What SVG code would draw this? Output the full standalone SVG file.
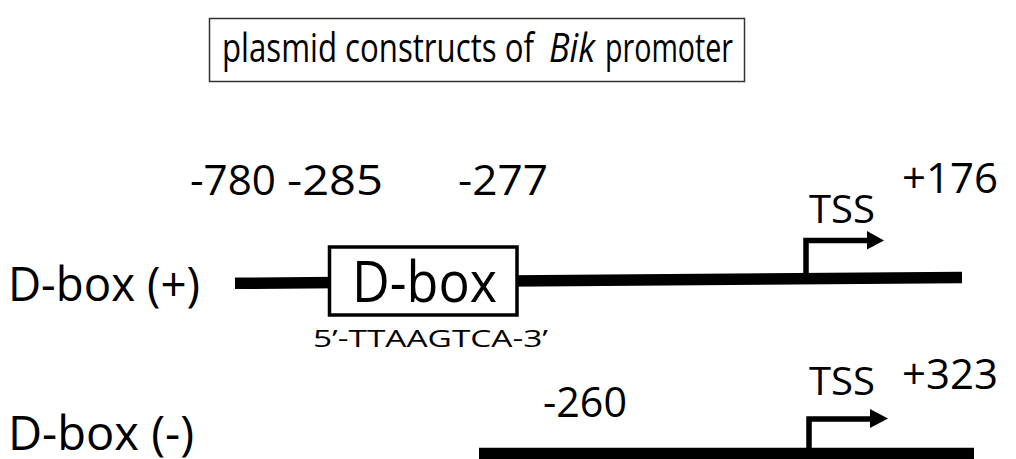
<svg xmlns="http://www.w3.org/2000/svg" width="1016" height="459" viewBox="0 0 1016 459">
<style>
text{font-family:"Open Sans","Liberation Sans",sans-serif;fill:#000}
.lbl{font-size:48px}
.num{font-size:42px}
.tss{font-size:39px}
.ttl{font-size:40px}
.dna{stroke:#000;stroke-width:11.5;fill:none}
.arr{stroke:#000;stroke-width:5.5;fill:none;stroke-linejoin:miter}
</style>
<rect width="1016" height="459" fill="#fff"/>
<g id="title">
<rect x="209.5" y="18.5" width="535" height="63" fill="#fff" stroke="#333" stroke-width="1.5"/>
<text class="ttl" x="222" y="62" textLength="312" lengthAdjust="spacingAndGlyphs">plasmid constructs of</text>
<text class="ttl" x="549" y="62" font-style="italic" textLength="46" lengthAdjust="spacingAndGlyphs">Bik</text>
<text class="ttl" x="605" y="62" textLength="128" lengthAdjust="spacingAndGlyphs">promoter</text>
</g>
<g id="connectors">
<line class="dna" x1="235" y1="283.3" x2="962" y2="277.4"/>
<line class="dna" x1="479" y1="453.5" x2="974" y2="453.5"/>
<path class="arr" d="M806,279 V240.5 H869"/>
<polygon points="867,231 884,240.5 867,249.5" fill="#000"/>
<path class="arr" d="M809,449 V419 H872"/>
<polygon points="870,409 888,418.5 870,428" fill="#000"/>
</g>
<g id="dbox-plus">
<text class="lbl" x="8" y="301" textLength="192" lengthAdjust="spacingAndGlyphs">D-box (+)</text>
<text class="num" x="190" y="195" textLength="86" lengthAdjust="spacingAndGlyphs">-780</text>
<text class="num" x="287" y="195" textLength="96" lengthAdjust="spacingAndGlyphs">-285</text>
<text class="num" x="458" y="195" textLength="90" lengthAdjust="spacingAndGlyphs">-277</text>
<text class="num" x="902" y="193" textLength="96" lengthAdjust="spacingAndGlyphs">+176</text>
<text class="tss" x="809" y="223" textLength="66" lengthAdjust="spacingAndGlyphs">TSS</text>
</g>
<g id="dbox-element">
<rect x="329.5" y="247" width="187.5" height="68" fill="#fff" stroke="#000" stroke-width="3.5"/>
<text x="352" y="302" font-size="56" textLength="145" lengthAdjust="spacingAndGlyphs">D-box</text>
<text x="313" y="346.5" font-size="24" textLength="235" lengthAdjust="spacingAndGlyphs">5’-TTAAGTCA-3’</text>
</g>
<g id="dbox-minus">
<text class="lbl" x="8" y="450" textLength="186" lengthAdjust="spacingAndGlyphs">D-box (-)</text>
<text class="num" x="543" y="417" textLength="84" lengthAdjust="spacingAndGlyphs">-260</text>
<text class="num" x="902" y="389" textLength="96" lengthAdjust="spacingAndGlyphs">+323</text>
<text class="tss" x="809" y="395" textLength="66" lengthAdjust="spacingAndGlyphs">TSS</text>
</g>
</svg>
